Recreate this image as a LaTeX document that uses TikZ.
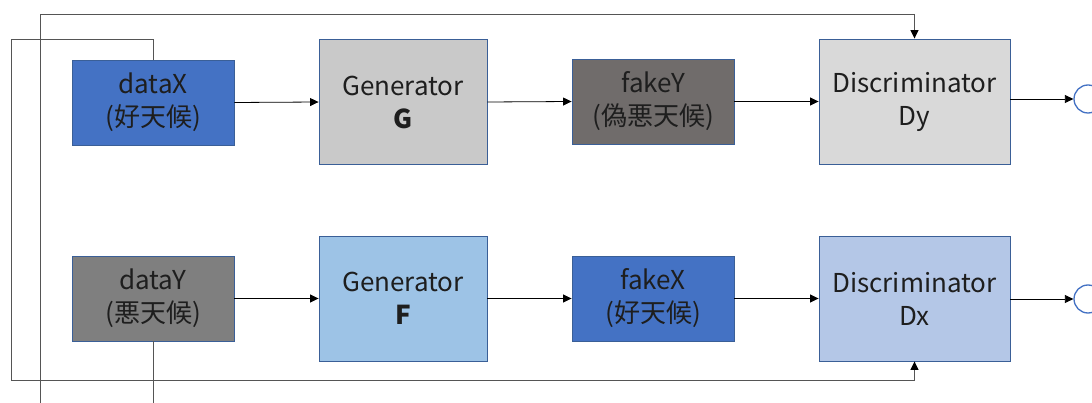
\documentclass[tikz,border=0pt]{standalone}
\usepackage{fontspec}
\setmainfont{Noto Sans CJK JP}
\usetikzlibrary{arrows.meta,calc}

\definecolor{edgeblue}{HTML}{3A5F97}
\definecolor{realblue}{HTML}{4472C4}
\definecolor{gengray}{HTML}{C9C9C9}
\definecolor{fakegray}{HTML}{706C6B}
\definecolor{discgray}{HTML}{D9D9D9}
\definecolor{datagray}{HTML}{7F7F7F}
\definecolor{genblue}{HTML}{9DC3E6}
\definecolor{discblue}{HTML}{B4C7E7}
\definecolor{wire}{HTML}{555555}
\definecolor{txt}{HTML}{1E1E1E}

\tikzset{
  blk/.style={draw=edgeblue, line width=0.9pt, inner sep=0pt, align=center,
    text=txt, font=\fontsize{26}{33}\selectfont},
  smallblk/.style={blk, minimum width=162pt, minimum height=85pt},
  genblk/.style={blk, minimum width=168pt, minimum height=125pt},
  discblk/.style={blk, minimum width=191pt, minimum height=125pt},
  flow/.style={draw=black, line width=0.8pt, -{Triangle[length=8.5pt,width=8pt]}},
  loopwire/.style={draw=wire, line width=0.9pt},
  outcirc/.style={circle, draw=realblue, line width=1.3pt, fill=white,
    minimum size=28pt, inner sep=0pt},
}

\begin{document}
\begin{tikzpicture}[x=1pt, y=-1pt]
  \useasboundingbox (0,0) rectangle (1092,403);
  \clip (0,0) rectangle (1092,403);

  % upper chain: X -> G -> fake Y -> Dy
  \node[smallblk, fill=realblue] (dataX) at (153,102.5) {dataX\\(好天候)};
  \node[genblk, fill=gengray] (G) at (403,102) {Generator\\\textbf{G}};
  \node[smallblk, fill=fakegray] (fakeY) at (653,101.5) {fakeY\\(偽悪天候)};
  \node[discblk, fill=discgray] (Dy) at (914.5,101.5) {Discriminator\\Dy};
  \node[outcirc] (outY) at (1088,99) {};

  % lower chain: Y -> F -> fake X -> Dx
  \node[smallblk, fill=datagray] (dataY) at (153,298.5) {dataY\\(悪天候)};
  \node[genblk, fill=genblue] (F) at (403,298.5) {Generator\\\textbf{F}};
  \node[smallblk, fill=realblue] (fakeX) at (653,298.5) {fakeX\\(好天候)};
  \node[discblk, fill=discblue] (Dx) at (914.5,298.5) {Discriminator\\Dx};
  \node[outcirc] (outX) at (1088,299) {};

  % main flow arrows
  \draw[flow] (dataX.east) -- (G.west);
  \draw[flow] (G.east) -- (fakeY.west);
  \draw[flow] (fakeY.east) -- (Dy.west);
  \draw[flow] (Dy.east |- outY.west) -- (outY.west);

  \draw[flow] (dataY.east) -- (F.west);
  \draw[flow] (F.east) -- (fakeX.west);
  \draw[flow] (fakeX.east) -- (Dx.west);
  \draw[flow] (Dx.east |- outX.west) -- (outX.west);

  % real X fed round to Dx
  \coordinate (xa) at (11,39);
  \coordinate (xb) at (11,380);
  \draw[loopwire] (dataX.north) |- (xa) -- (xb) -- (Dx.south |- xb);
  \draw[loopwire, -{Triangle[length=8.5pt,width=8pt,color=black]}]
    (Dx.south |- xb) -- (Dx.south);

  % real Y fed round to Dy
  \coordinate (ya) at (40,403);
  \coordinate (yb) at (40,14);
  \draw[loopwire] (dataY.south) -- (dataY.south |- ya);
  \draw[loopwire] (ya) -- (yb) -- (Dy.north |- yb);
  \draw[loopwire, -{Triangle[length=8.5pt,width=8pt,color=black]}]
    (Dy.north |- yb) -- (Dy.north);
\end{tikzpicture}
\end{document}
